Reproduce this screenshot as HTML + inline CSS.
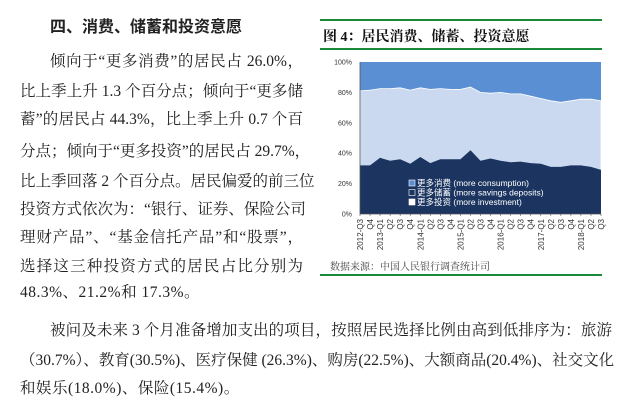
<!DOCTYPE html>
<html><head><meta charset="utf-8"><style>
body{margin:0;width:625px;height:410px;background:#fff;position:relative;overflow:hidden;font-family:"Liberation Serif","Noto Serif CJK SC",serif;color:#222}
.l{position:absolute;font-size:15.5px;line-height:20px;white-space:nowrap;text-align:justify;text-align-last:justify}
.h{position:absolute;left:50px;top:13px;font-size:16px;font-family:"Liberation Sans","Noto Sans CJK SC",sans-serif;font-weight:bold;color:#222}
</style></head><body>
<div class="h">四、消费、储蓄和投资意愿</div>
<div class="l" style="left:50px;top:52px;width:253px">倾向于“更多消费”的居民占 26.0%，</div>
<div class="l" style="left:20px;top:82px;width:283px">比上季上升 1.3 个百分点；倾向于“更多储</div>
<div class="l" style="left:20px;top:110px;width:283px">蓄”的居民占 44.3%，比上季上升 0.7 个百</div>
<div class="l" style="left:20px;top:142px;width:283px">分点；倾向于“更多投资”的居民占 29.7%，</div>
<div class="l" style="left:20px;top:172px;width:283px">比上季回落 2 个百分点。居民偏爱的前三位</div>
<div class="l" style="left:20px;top:200px;width:283px">投资方式依次为：“银行、证券、保险公司</div>
<div class="l" style="left:20px;top:228px;width:283px">理财产品”、“基金信托产品”和“股票”，</div>
<div class="l" style="left:20px;top:257px;width:283px">选择这三种投资方式的居民占比分别为</div>
<div class="l" style="left:20px;top:283px;width:170px;text-align-last:left;letter-spacing:0.5px">48.3%、21.2%和 17.3%。</div>
<div class="l" style="left:50px;top:321px;width:562px">被问及未来 3 个月准备增加支出的项目，按照居民选择比例由高到低排序为：旅游</div>
<div class="l" style="left:20px;top:351px;width:592px">（30.7%）、教育(30.5%)、医疗保健 (26.3%)、购房(22.5%)、大额商品(20.4%)、社交文化</div>
<div class="l" style="left:20px;top:379px;width:260px;text-align-last:left;letter-spacing:0.5px">和娱乐(18.0%)、保险(15.4%)。</div>
<svg width="625" height="410" style="position:absolute;left:0;top:0" font-family="Liberation Sans, Noto Sans CJK SC, sans-serif">
<rect x="320" y="19" width="282" height="2" fill="#1a8a3a"/>
<text x="323" y="41" font-size="14" font-weight="bold" fill="#111" font-family="Liberation Serif, Noto Serif CJK SC, serif">图 4：居民消费、储蓄、投资意愿</text>
<rect x="320" y="48" width="282" height="2" fill="#1a8a3a"/>
<rect x="320" y="274" width="282" height="2" fill="#1a8a3a"/>
<text x="330" y="270" font-size="10" fill="#444" font-family="Liberation Serif, Noto Serif CJK SC, serif">数据来源：中国人民银行调查统计司</text>
<g id="c"></g>
</svg>
<script>
const dark=[32,32,37,35,36,33,37.5,33.5,36,36,36,42,35,36.5,35,34,34.5,33.5,33,31,31,32,32,31,29];
const top_=[81,81.5,82.5,82.5,83,81.5,83,82,82.5,82,82,83.5,80,79.5,80,79,79,77.5,76,74.5,73.5,74.5,75.5,75.5,74.5];
const X0=360,X1=601,Y0=214,Y1=62;
const px=i=>X0+i*(X1-X0)/24, py=v=>Y0-(Y0-Y1)*v/100;
let s='';
s+=`<rect x="${X0}" y="${Y1}" width="${X1-X0}" height="${Y0-Y1}" fill="#5a8fd4"/>`;
let p=`M${X0},${Y0} `+top_.map((v,i)=>`L${px(i).toFixed(1)},${py(v).toFixed(1)}`).join(' ')+` L${X1},${Y0}Z`;
s+=`<path d="${p}" fill="#cad9ef" stroke="#fff" stroke-width="0.8"/>`;
p=`M${X0},${Y0} `+dark.map((v,i)=>`L${px(i).toFixed(1)},${py(v).toFixed(1)}`).join(' ')+` L${X1},${Y0}Z`;
s+=`<path d="${p}" fill="#1b3560"/>`;
s+=`<line x1="${X0}" y1="${Y0}" x2="${X1}" y2="${Y0}" stroke="#555" stroke-width="0.8"/><line x1="${X0}" y1="${Y1}" x2="${X0}" y2="${Y0}" stroke="#555" stroke-width="0.8"/>`;
for(let k=0;k<=5;k++){const y=py(k*20);s+=`<text x="352" y="${y+2.5}" font-size="7" text-anchor="end" fill="#333">${k*20}%</text>`;}
const q=['Q3','Q4','Q1','Q2'];const yrs={0:'2012-',2:'2013-',6:'2014-',10:'2015-',14:'2016-',18:'2017-',22:'2018-'};
for(let i=0;i<25;i++){const x=px(i);const lab=(yrs[i]||'')+q[i%4];
s+=`<line x1="${x}" y1="${Y0}" x2="${x}" y2="${Y0+2}" stroke="#555" stroke-width="0.6"/>`;
s+=`<text transform="translate(${x+3},${Y0+5}) rotate(-90)" font-size="8" text-anchor="end" fill="#333">${lab}</text>`;}
const leg=[['#5a8fd4','更多消费 (more consumption)'],['#1b3560','更多储蓄 (more savings deposits)'],['#fff','更多投资 (more investment)']];
leg.forEach((l,i)=>{const y=186+i*9.5;s+=`<rect x="409" y="${y-6}" width="6" height="6" fill="${l[0]}" stroke="#fff" stroke-width="0.6"/><text x="417" y="${y}" font-size="8.5" fill="#fff">${l[1]}</text>`;});
document.getElementById('c').innerHTML=s;
</script>
</body></html>
